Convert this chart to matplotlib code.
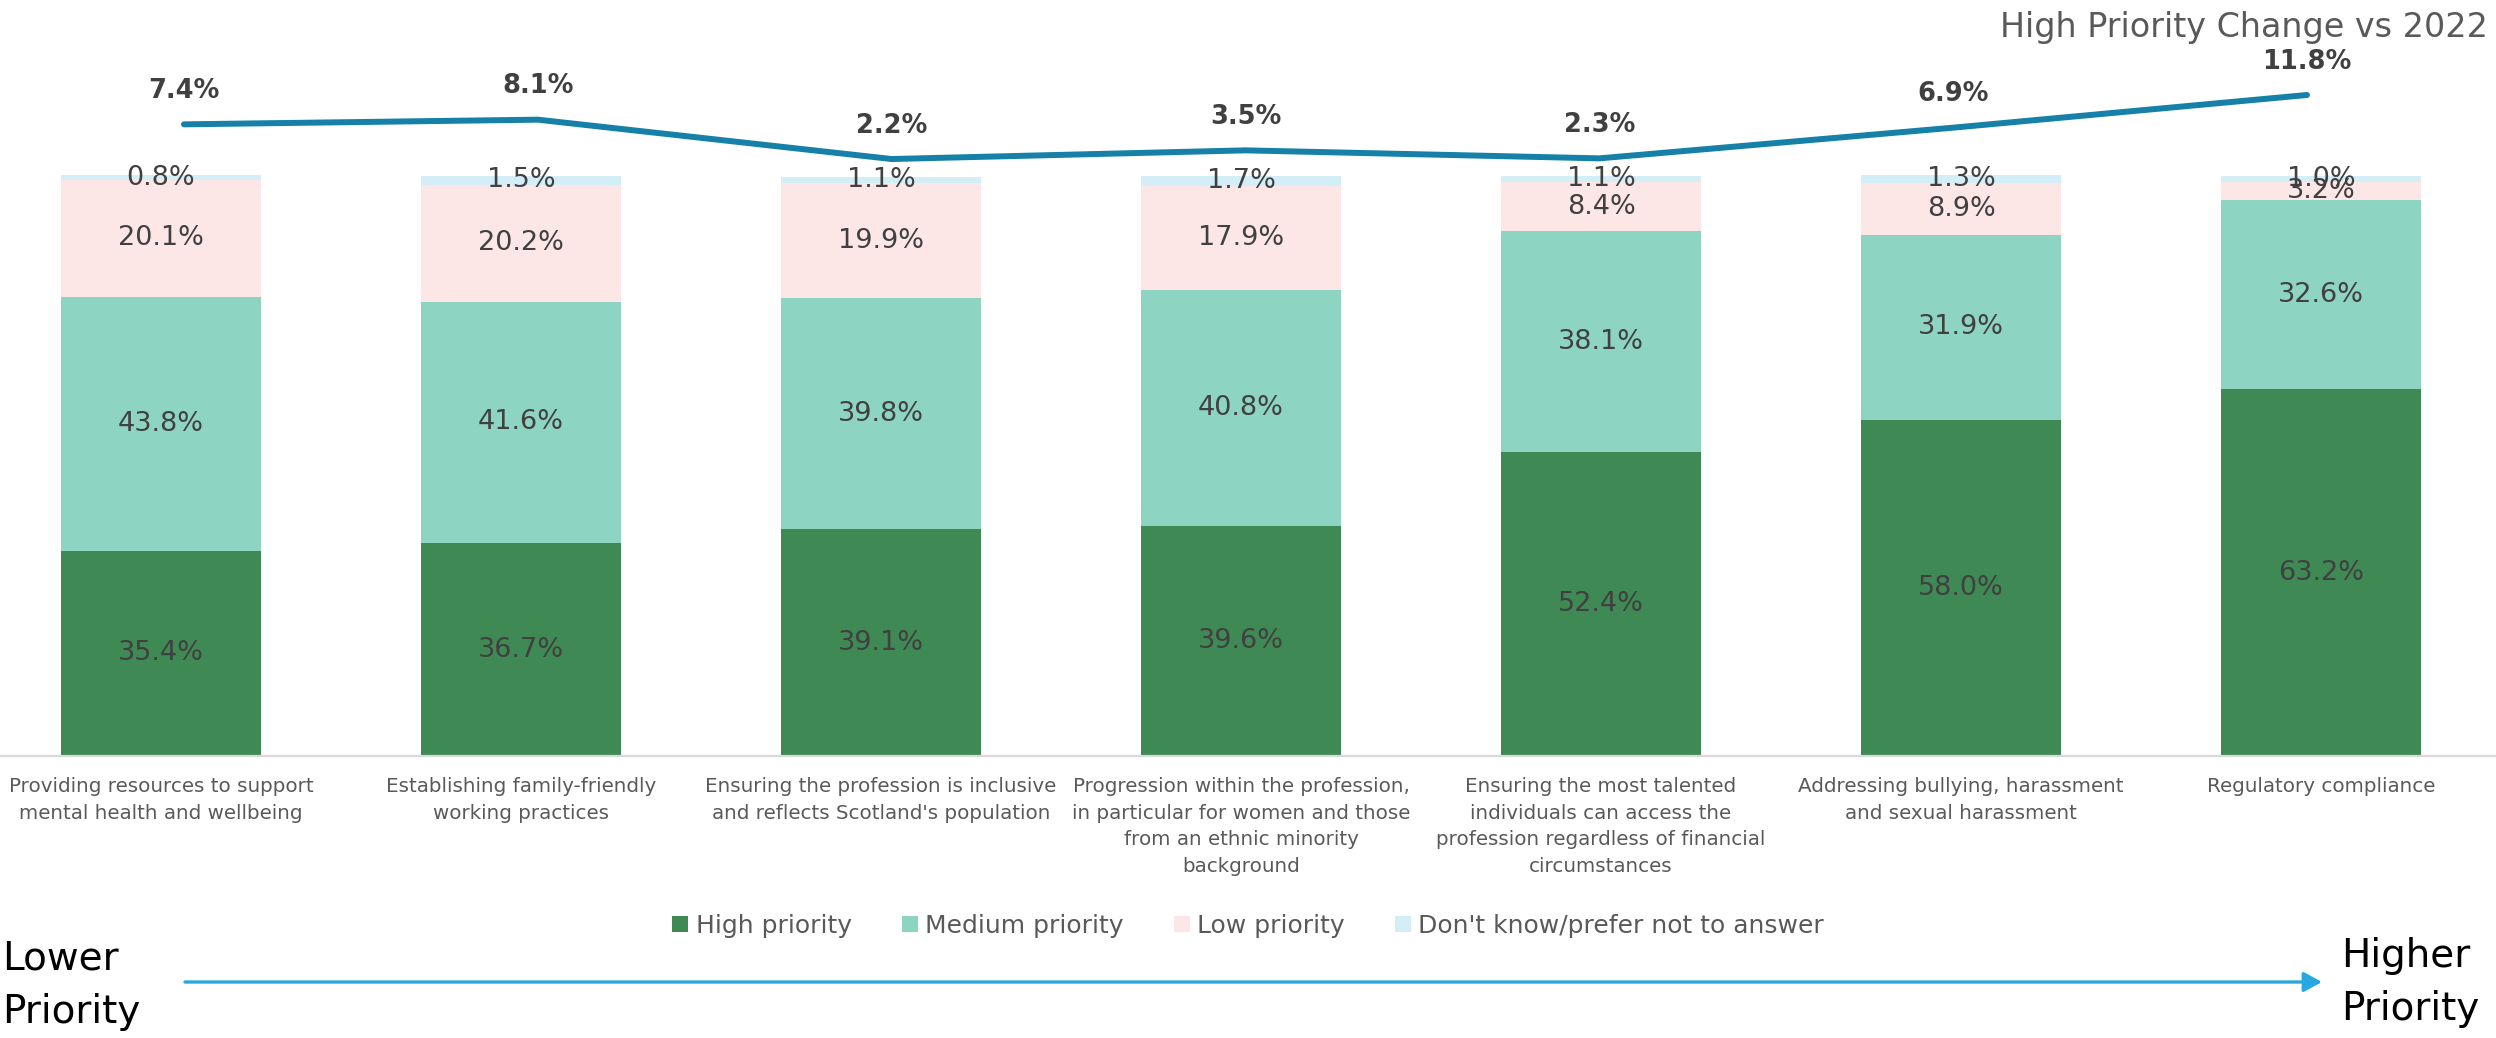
import matplotlib
matplotlib.use("Agg")
import matplotlib.pyplot as plt
from matplotlib.patches import FancyArrowPatch, Patch
import numpy as np

categories = [
    "Providing resources to support\nmental health and wellbeing",
    "Establishing family-friendly\nworking practices",
    "Ensuring the profession is inclusive\nand reflects Scotland's population",
    "Progression within the profession,\nin particular for women and those\nfrom an ethnic minority\nbackground",
    "Ensuring the most talented\nindividuals can access the\nprofession regardless of financial\ncircumstances",
    "Addressing bullying, harassment\nand sexual harassment",
    "Regulatory compliance",
]
high = [35.4, 36.7, 39.1, 39.6, 52.4, 58.0, 63.2]
medium = [43.8, 41.6, 39.8, 40.8, 38.1, 31.9, 32.6]
low = [20.1, 20.2, 19.9, 17.9, 8.4, 8.9, 3.2]
dontknow = [0.8, 1.5, 1.1, 1.7, 1.1, 1.3, 1.0]
change_vs_2022 = [7.4, 8.1, 2.2, 3.5, 2.3, 6.9, 11.8]

series_names = ["High priority", "Medium priority", "Low priority",
                "Don't know/prefer not to answer"]
series_colors = ["#3E8954", "#8DD5C2", "#FDE6E6", "#D4EEF8"]

W, H = 2496, 1038
fig = plt.figure(figsize=(W / 100, H / 100), dpi=100)

# bar axes
ax_bottom = (H - 756) / H
ax_top = (H - 147) / H
ax = fig.add_axes([0, ax_bottom, 1, ax_top - ax_bottom])
ax.set_xlim((0 - 161) / 360, (W - 161) / 360)
ax.set_ylim(0, 105)

x = np.arange(len(categories))
bottoms = np.zeros(len(categories))
for vals, name, col in zip([high, medium, low, dontknow], series_names, series_colors):
    vals = np.array(vals)
    ax.bar(x, vals, bottom=bottoms, width=200 / 360, color=col, label=name, zorder=2)
    for xi, b, v in zip(x, bottoms, vals):
        ax.text(xi, b + v / 2, f"{v:.1f}%", ha="center", va="center",
                fontsize=19.5, color="#404040", zorder=3)
    bottoms += vals

for s in ["top", "left", "right"]:
    ax.spines[s].set_visible(False)
ax.spines["bottom"].set_color("#D9D9D9")
ax.spines["bottom"].set_linewidth(1.6)
ax.set_yticks([])
ax.set_xticks(x)
ax.set_xticklabels(categories, fontsize=14.3, color="#595959")
ax.tick_params(axis="x", length=0, pad=15)
for lbl in ax.get_xticklabels():
    lbl.set_linespacing(1.52)

# line axes (overlay)
ax2 = fig.add_axes([0, 0, 1, 1])
ax2.patch.set_alpha(0)
ax2.axis("off")
ax2.set_xlim(-184 / 353.83, (W - 184) / 353.83)
ax2.set_ylim((173.7 - H) / 6.67, 173.7 / 6.67)
ax2.plot(x, change_vs_2022, color="#1580A8", lw=4.3, solid_capstyle="round",
         solid_joinstyle="round")
for xi, v in zip(x, change_vs_2022):
    ax2.annotate(f"{v:.1f}%", (xi, v), xytext=(0, 24), textcoords="offset points",
                 ha="center", va="center", fontsize=18.5, fontweight="bold",
                 color="#404040")

# title
fig.text(2488 / W, 1 - 11 / H, "High Priority Change vs 2022", ha="right", va="top",
         fontsize=24, color="#595959")

# legend
handles = [Patch(facecolor=c, edgecolor="none") for c in series_colors]
fig.legend(handles, series_names, loc="center", bbox_to_anchor=(0.5, 1 - 926 / H),
           ncol=4, frameon=False, fontsize=18, handlelength=0.64, handleheight=0.64,
           handletextpad=0.3, columnspacing=2.0, labelcolor="#595959")

# priority arrow
fig.text(2 / W, 1 - 940 / H, "Lower\nPriority", ha="left", va="top", fontsize=28,
         color="black", linespacing=1.5)
fig.text(2341 / W, 1 - 937 / H, "Higher\nPriority", ha="left", va="top", fontsize=28,
         color="black", linespacing=1.5)
arrow = FancyArrowPatch((185 / W, 1 - 982 / H), (2322 / W, 1 - 982 / H),
                        transform=fig.transFigure, arrowstyle="-|>,head_length=0.55,head_width=0.3",
                        mutation_scale=20, color="#29A8E0", lw=2.4, shrinkA=0, shrinkB=0)
fig.add_artist(arrow)

fig.savefig("out.png", dpi=100)
